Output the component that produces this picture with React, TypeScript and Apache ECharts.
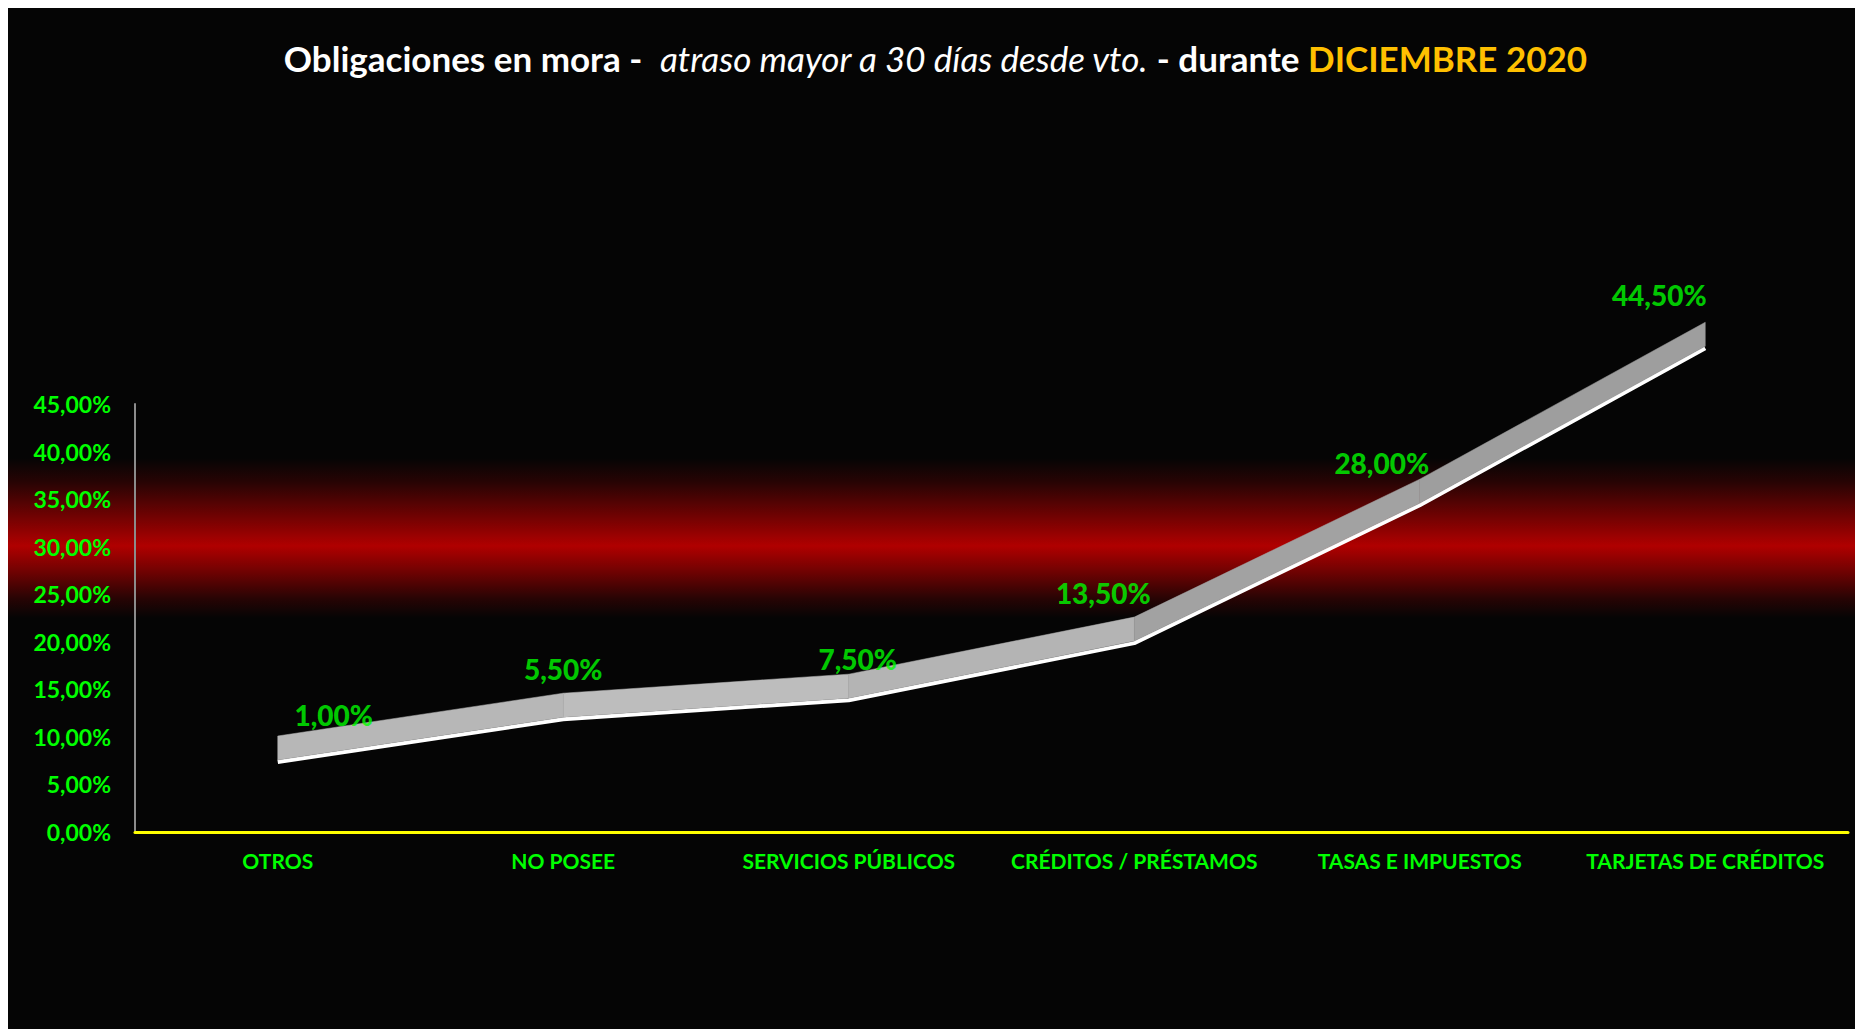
import React, { useEffect, useRef } from "react";
import * as echarts from "echarts";

const categories = [
  "OTROS",
  "NO POSEE",
  "SERVICIOS PÚBLICOS",
  "CRÉDITOS / PRÉSTAMOS",
  "TASAS E IMPUESTOS",
  "TARJETAS DE CRÉDITOS",
];
const values = [1.0, 5.5, 7.5, 13.5, 28.0, 44.5];
const yMin = 0;
const yMax = 45;
const yInterval = 5;

// label nudges (layout only, relative to the ribbon's front edge)
const labelDx = [56, 0, 9, -31, -38, -46];
const labelDy = [-47, -50, -41, -50, -42, -53];

const GREEN = "#00ff00";
const FONT = "Lato, 'Open Sans', sans-serif";

const fmt = (v: number) => v.toFixed(2).replace(".", ",") + "%";

export default function App() {
  const ref = useRef<HTMLDivElement>(null);
  useEffect(() => {
    document.documentElement.style.overflow = "hidden";
    document.body.style.overflow = "hidden";
    const chart = echarts.init(ref.current!, null, { renderer: "svg" });
    const W = 1855;
    const gridLeft = 127;
    const gridWidth = 1713;
    const segments = values.slice(0, -1).map((v, i) => [i, v, values[i + 1]]);
    const option: any = {
      animation: false,
      backgroundColor: "#050505",
      title: {
        left: "center",
        top: 27,
        text:
          "{a|Obligaciones en mora -  }{b|atraso mayor a 30 días desde vto.}{a| - durante }{c|DICIEMBRE 2020}",
        textStyle: {
          rich: {
            a: { fontFamily: FONT, fontSize: 35, fontWeight: "bold", color: "#ffffff" },
            b: { fontFamily: FONT, fontSize: 35, fontStyle: "italic", fontWeight: "normal", color: "#ffffff" },
            c: { fontFamily: FONT, fontSize: 35, fontWeight: "bold", color: "#ffc000" },
          },
        },
      },
      graphic: [
        {
          type: "rect",
          silent: true,
          z: -10,
          shape: { x: 0, y: 450, width: W, height: 160 },
          style: {
            fill: new echarts.graphic.LinearGradient(0, 0, 0, 1, [
              { offset: 0, color: "rgba(176,0,0,0)" },
              { offset: 0.15, color: "rgba(176,0,0,0.2)" },
              { offset: 0.35, color: "rgba(176,0,0,0.6)" },
              { offset: 0.55, color: "rgba(176,0,0,1)" },
              { offset: 0.72, color: "rgba(176,0,0,0.6)" },
              { offset: 0.88, color: "rgba(176,0,0,0.2)" },
              { offset: 1, color: "rgba(176,0,0,0)" },
            ]),
          },
        },
      ],
      grid: [
        { left: gridLeft, top: 396, width: gridWidth, height: 428 },
        { left: gridLeft, top: 335.5, width: gridWidth, height: 428 },
      ],
      xAxis: [
        {
          type: "category",
          gridIndex: 0,
          data: categories,
          boundaryGap: true,
          axisLine: { show: true, lineStyle: { color: "#ffff00", width: 3 } },
          axisTick: { show: false },
          splitLine: { show: false },
          axisLabel: {
            color: GREEN,
            fontFamily: FONT,
            fontWeight: "bold",
            fontSize: 21,
            margin: 18,
            interval: 0,
          },
        },
        {
          type: "category",
          gridIndex: 1,
          data: categories,
          boundaryGap: true,
          show: false,
        },
      ],
      yAxis: [
        {
          type: "value",
          gridIndex: 0,
          min: yMin,
          max: yMax,
          interval: yInterval,
          axisLine: { show: true, lineStyle: { color: "#8c8c8c", width: 2 } },
          axisTick: { show: false },
          splitLine: { show: false },
          axisLabel: {
            color: GREEN,
            fontFamily: FONT,
            fontWeight: "bold",
            fontSize: 23,
            margin: 24,
            formatter: (v: number) => fmt(v),
          },
        },
        {
          type: "value",
          gridIndex: 1,
          min: yMin,
          max: yMax,
          interval: yInterval,
          show: false,
        },
      ],
      series: [
        {
          type: "line",
          xAxisIndex: 1,
          yAxisIndex: 1,
          data: values,
          symbol: "none",
          lineStyle: { color: "#ffffff", width: 4 },
          z: 3,
          silent: true,
        },
        {
          type: "custom",
          xAxisIndex: 1,
          yAxisIndex: 1,
          data: segments,
          z: 4,
          silent: true,
          renderItem: (params: any, api: any) => {
            const i = api.value(0);
            const p0 = api.coord([i, api.value(1)]);
            const p1 = api.coord([i + 1, api.value(2)]);
            const depth = 26;
            const ang = (Math.atan2(Math.abs(p1[1] - p0[1]), p1[0] - p0[0]) * 180) / Math.PI;
            const shade = Math.round(194 - 1.25 * ang);
            const col = `rgb(${shade},${shade},${shade})`;
            return {
              type: "polygon",
              shape: {
                points: [
                  [p0[0], p0[1] - depth],
                  [p1[0], p1[1] - depth],
                  [p1[0], p1[1] - 2],
                  [p0[0], p0[1] - 2],
                ],
              },
              style: { fill: col, stroke: col, lineWidth: 0.5 },
            };
          },
        },
        {
          type: "scatter",
          xAxisIndex: 1,
          yAxisIndex: 1,
          symbolSize: 1,
          itemStyle: { color: "rgba(0,0,0,0)" },
          z: 5,
          silent: true,
          data: values.map((v, i) => ({
            value: [i, v],
            label: { offset: [labelDx[i], labelDy[i]] },
          })),
          label: {
            show: true,
            position: "inside",
            color: GREEN,
            fontFamily: FONT,
            fontWeight: 900,
            fontSize: 28,
            formatter: (p: any) => fmt(p.value[1]),
          },
        },
      ],
    };
    chart.setOption(option);
    return () => chart.dispose();
  }, []);
  return <div ref={ref} style={{ width: 1855, height: 1021 }} />;
}
